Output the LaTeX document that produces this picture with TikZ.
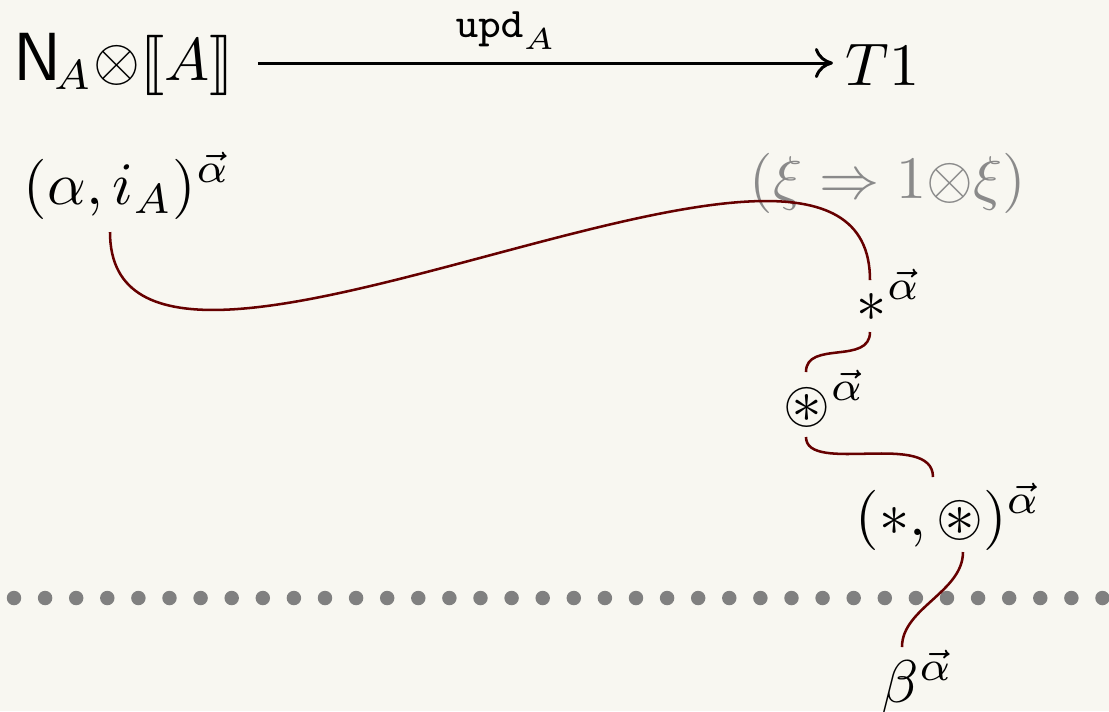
\documentclass[tikz,border=0pt]{standalone}
\usepackage{amsmath,amssymb}
\usepackage{stmaryrd}
\usepackage{graphicx}
\usetikzlibrary{arrows.meta}
\definecolor{bg}{RGB}{248,247,241}
\definecolor{wirecol}{RGB}{102,0,0}
\definecolor{ghost}{RGB}{138,138,138}
\definecolor{dotcol}{RGB}{128,128,128}
\tikzset{
  txt/.style={inner sep=0pt, outer sep=0pt, anchor=base west},
  wire/.style={draw=wirecol, line width=0.42pt},
  mainarrow/.style={line width=0.5pt, -{To[length=3pt,width=5pt]}},
  sepdot/.style={circle, fill=dotcol, inner sep=0pt, minimum size=2.4pt}
}
\begin{document}
\begin{tikzpicture}[x=0.166pt,y=-0.166pt]
\useasboundingbox (0,0) rectangle (1109,711);
\fill[bg] (0,0) rectangle (1109,711);
% dotted separator
\foreach \k in {0,...,35} {
  \node[sepdot] (d\k) at ({14+31.1*\k},598) {};
}
% top row
\node[txt] (src) at (14,80) {$\scalebox{1.13}{$\mathsf{N}$}_{\!A}{\otimes}\llbracket A\rrbracket$};
\node[txt] (tgt) at (846,85) {$T1$};
\coordinate (arrS) at (258,63);
\coordinate (arrE) at (833,63);
\draw[mainarrow] (arrS) -- (arrE);
\node[txt] (lbl) at (456,37) {$\scriptstyle\mathtt{upd}_A$};
% string diagram
\node[txt] (n1) at (24,204) {$(\alpha, i_A)^{\vec{\alpha}}$};
\node[txt, text=ghost] (n0) at (750,198) {$(\xi\Rightarrow 1{\otimes}\xi)$};
\node[txt] (n2) at (857,321) {$\ast^{\vec{\alpha}}$};
\node[txt] (n3) at (784,422) {$\circledast^{\vec{\alpha}}$};
\node[txt] (n4) at (856,535) {$(\ast, \circledast)^{\vec{\alpha}}$};
\node[txt] (n5) at (882,702) {$\beta^{\vec{\alpha}}$};
% ports
\coordinate (p1) at (110,232);
\coordinate (p2in) at (870,280);
\coordinate (p2out) at (870,332);
\coordinate (p3in) at (806,372);
\coordinate (p3out) at (806,437);
\coordinate (p4in) at (933,477);
\coordinate (p4out) at (963,552);
\coordinate (p5in) at (902,647);
\path[wire] (p1) .. controls (110,482) and (870,28) .. (p2in);
\path[wire] (p2out) .. controls (870,365) and (806,340) .. (p3in);
\path[wire] (p3out) .. controls (806,475) and (933,430) .. (p4in);
\path[wire] (p4out) .. controls (963,592) and (902,608) .. (p5in);
\end{tikzpicture}
\end{document}
